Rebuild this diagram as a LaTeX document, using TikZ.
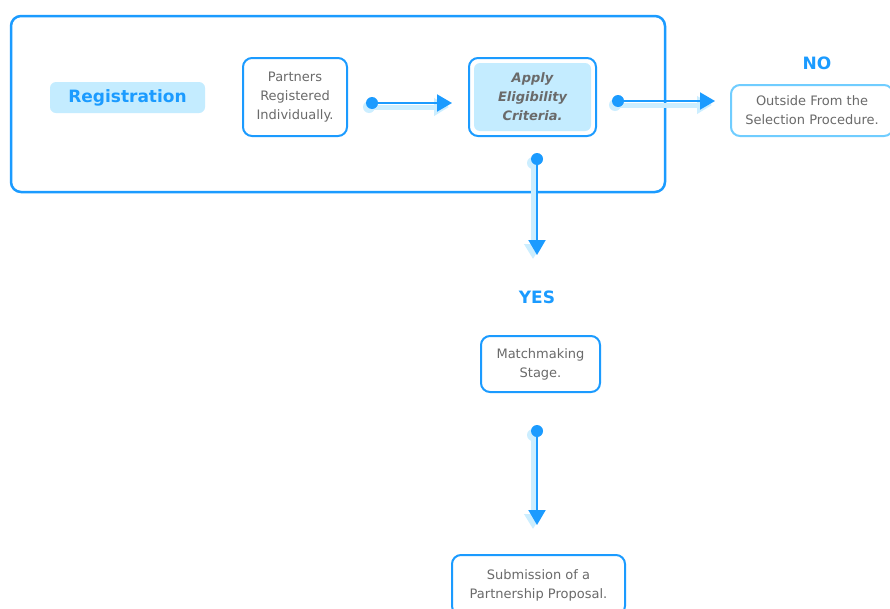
\documentclass[tikz,border=0pt]{standalone}
\usepackage{fontspec}
\setmainfont{DejaVu Sans}
\usetikzlibrary{arrows.meta}
\definecolor{bl}{HTML}{1B9BFF}
\definecolor{lb}{HTML}{C4ECFF}
\definecolor{sh}{HTML}{CCEEFF}
\definecolor{gt}{HTML}{6A6A6A}
\definecolor{ob}{HTML}{70CDFF}
\tikzset{
  box/.style={draw=bl, line width=2pt, rounded corners=9pt, fill=white, text=gt, align=center,
    font=\fontsize{13}{19}\selectfont, inner sep=0pt},
  dotnode/.style={circle, fill=bl, minimum size=12pt, inner sep=0pt},
  shdot/.style={circle, fill=sh, minimum size=12pt, inner sep=0pt},
  conn/.style={draw=bl, line width=2pt, -{Triangle[length=15pt,width=17pt]}},
  shad/.style={draw=sh, line width=5pt, -{Triangle[length=15pt,width=17pt]}},
  lbl/.style={text=bl, font=\bfseries\fontsize{17}{20}\selectfont, inner sep=0pt},
}
\begin{document}
\begin{tikzpicture}[x=1pt,y=-1pt]
\clip (0,0) rectangle (890,608);
\fill[white] (0,0) rectangle (890,608);

% frame
\draw[bl, line width=2.5pt, rounded corners=10pt] (11,16) rectangle (665,192);

% registration label
\node[fill=lb, rounded corners=6pt, minimum width=155pt, minimum height=31pt, inner sep=0pt,
  text=bl, font=\bfseries\fontsize{17}{20}\selectfont] (reg) at (127.5,97.5) {Registration};

% boxes
\node[box, minimum width=104pt, minimum height=78pt] (partners) at (295,97) {Partners\\Registered\\Individually.};
\node[box, minimum width=127pt, minimum height=78pt,
  font=\bfseries\itshape\fontsize{13}{19}\selectfont,
  path picture={\fill[lb, rounded corners=6pt]
    ([xshift=5pt,yshift=-5pt]path picture bounding box.north west) rectangle
    ([xshift=-5pt,yshift=5pt]path picture bounding box.south east);}] (apply) at (532.5,97) {Apply\\Eligibility\\Criteria.};
\node[box, draw=ob, minimum width=162pt, minimum height=51pt] (outside) at (812,110.5) {Outside From the\\Selection Procedure.};
\node[box, minimum width=119pt, minimum height=56pt] (match) at (540.5,364) {Matchmaking\\Stage.};
\node[box, minimum width=173pt, minimum height=60pt] (submit) at (538.5,585) {Submission of a\\Partnership Proposal.};

% labels
\node[lbl] (no) at (817,63) {NO};
\node[lbl] (yes) at (537,297) {YES};

% connector dots and tips
\coordinate (t1) at (452,103);
\coordinate (t2) at (715,101);
\coordinate (t3) at (537,255);
\coordinate (t4) at (537,525);
\coordinate (s1) at (369,107);
\coordinate (s2) at (615,105);
\coordinate (s3) at (533,163);
\coordinate (s4) at (533,435);

% shadows
\node[shdot] (sd1) at (s1) {};
\node[shdot] (sd2) at (s2) {};
\node[shdot] (sd3) at (s3) {};
\node[shdot] (sd4) at (s4) {};
\draw[shad] (sd1.center) -- ([shift={(-3,4)}]t1);
\draw[shad] (sd2.center) -- ([shift={(-3,4)}]t2);
\draw[shad] (sd3.center) -- ([shift={(-4,4)}]t3);
\draw[shad] (sd4.center) -- ([shift={(-4,4)}]t4);

% main connectors
\node[dotnode] (d1) at (372,103) {};
\node[dotnode] (d2) at (618,101) {};
\node[dotnode] (d3) at (537,159) {};
\node[dotnode] (d4) at (537,431) {};
\draw[conn] (d1.center) -- (t1);
\draw[conn] (d2.center) -- (t2);
\draw[conn] (d3.center) -- (t3);
\draw[conn] (d4.center) -- (t4);
\end{tikzpicture}
\end{document}
